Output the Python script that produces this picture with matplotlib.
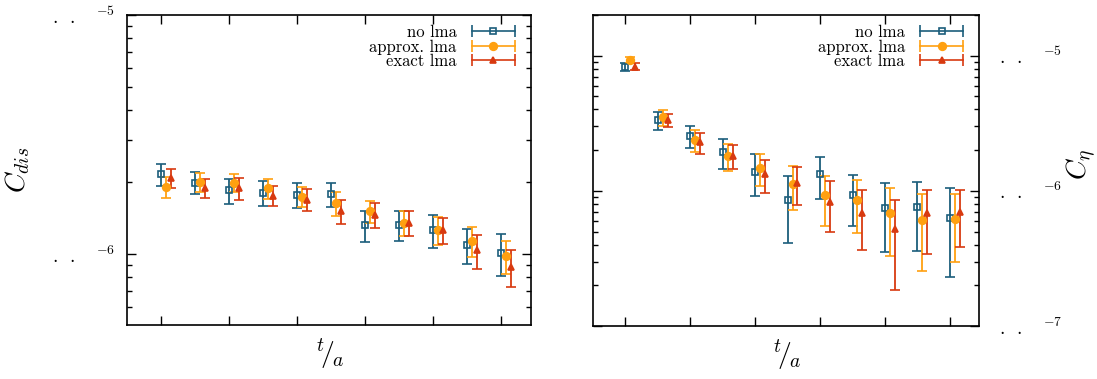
import numpy as np
import matplotlib
matplotlib.use("Agg")
import matplotlib.pyplot as plt
from matplotlib.lines import Line2D
from matplotlib.legend_handler import HandlerBase
from matplotlib.ticker import FixedLocator, LogLocator, NullFormatter

plt.rcParams["font.family"] = "serif"
plt.rcParams["font.serif"] = ["cmr10", "DejaVu Serif"]
plt.rcParams["mathtext.fontset"] = "cm"
plt.rcParams["axes.unicode_minus"] = False

# time slices (index) and values in units of 1e-6
t = np.arange(11)

dis_no = [2.155, 1.99, 1.845, 1.805, 1.766, 1.775, 1.32, 1.322, 1.26, 1.096, 1.012]
dis_no_err = [0.225, 0.21, 0.224, 0.222, 0.21, 0.20, 0.198, 0.187, 0.199, 0.183, 0.204]
dis_approx = [1.915, 1.995, 1.99, 1.883, 1.735, 1.63, 1.509, 1.355, 1.255, 1.133, 0.981]
dis_approx_err = [0.195, 0.185, 0.178, 0.179, 0.166, 0.185, 0.164, 0.166, 0.168, 0.164, 0.155]
dis_exact = [2.075, 1.885, 1.89, 1.75, 1.69, 1.512, 1.46, 1.35, 1.26, 1.035, 0.886]
dis_exact_err = [0.192, 0.176, 0.199, 0.168, 0.178, 0.171, 0.172, 0.161, 0.16, 0.166, 0.155]

eta_no = [8.3, 3.33, 2.55, 1.935, 1.39, 0.85, 1.33, 0.933, 0.752, 0.756, 0.635]
eta_no_err = [0.57, 0.52, 0.49, 0.484, 0.48, 0.442, 0.46, 0.387, 0.40, 0.397, 0.406]
eta_approx = [9.3, 3.51, 2.395, 1.815, 1.485, 1.128, 0.925, 0.85, 0.686, 0.604, 0.623]
eta_approx_err = [0.52, 0.466, 0.444, 0.424, 0.394, 0.409, 0.372, 0.36, 0.357, 0.35, 0.327]
eta_exact = [8.3, 3.33, 2.28, 1.825, 1.337, 1.148, 0.833, 0.687, 0.521, 0.682, 0.702]
eta_exact_err = [0.46, 0.346, 0.408, 0.363, 0.369, 0.358, 0.34, 0.32, 0.335, 0.339, 0.316]

labels = ["no lma", "approx. lma", "exact lma"]
colors = ["#1b5e7b", "#ffa010", "#d83a10"]
markers = ["s", "o", "^"]
offsets = [0.0, 0.15, 0.30]
msizes = [4.5, 5.5, 4.8]


class HErrHandler(HandlerBase):
    # horizontal errorbar sample like gnuplot keys
    def create_artists(self, legend, orig, xdescent, ydescent, width, height, fontsize, trans):
        c = orig.get_color()
        y = height / 2 - ydescent
        x0, x1 = -xdescent, width - xdescent
        bar = Line2D([x0, x1], [y, y], color=c, lw=1.2, marker="|", ms=8, mew=1.2)
        mk = Line2D([(x0 + x1) / 2], [y], ls="", marker=orig.get_marker(),
                    ms=orig.get_markersize(), mfc=orig.get_markerfacecolor(),
                    mec=c, mew=1.2)
        bar.set_transform(trans)
        mk.set_transform(trans)
        return [bar, mk]


def draw(ax, series, ylim, yticks, ticklabels, right):
    handles = []
    for (vals, errs), lab, c, m, off, ms in zip(series, labels, colors, markers, offsets, msizes):
        v = np.array(vals) * 1e-6
        e = np.array(errs) * 1e-6
        mfc = "none" if m == "s" else c
        ax.errorbar(t + off, v, yerr=e, fmt=m, color=c, mfc=mfc, mec=c, ms=ms,
                    mew=1.2, elinewidth=1.3, capsize=3.3, capthick=1.3)
        handles.append(Line2D([], [], color=c, marker=m, mfc=mfc, ms=ms))
    ax.set_yscale("log")
    ax.set_ylim(*ylim)
    ax.set_xlim(-1.0, 10.9)
    ax.xaxis.set_major_locator(FixedLocator([0, 2, 4, 6, 8, 10]))
    ax.set_xticklabels([])
    ax.yaxis.set_major_locator(FixedLocator(yticks))
    ax.yaxis.set_minor_locator(LogLocator(base=10, subs=np.arange(2, 10)))
    ax.yaxis.set_minor_formatter(NullFormatter())
    ax.set_yticklabels(ticklabels, fontsize=14)
    ax.tick_params(which="major", direction="in", length=6.5, width=1.0,
                   top=True, right=True)
    ax.tick_params(which="minor", direction="in", length=3.5, width=1.0,
                   top=True, right=True)
    ax.tick_params(axis="y", which="major", pad=8.7)
    if right:
        ax.tick_params(axis="y", labelleft=False, labelright=True, pad=14)
    for s in ax.spines.values():
        s.set_linewidth(1.2)
    ax.set_xlabel(r"${}^{t}\!/\!{}_{a}$", fontsize=20)
    ax.xaxis.set_label_coords(0.5, -0.04)
    ax.legend(handles, labels, handler_map={Line2D: HErrHandler()},
              loc="upper right", frameon=False, markerfirst=False,
              fontsize=12, handlelength=2.6, handletextpad=0.9,
              labelspacing=-0.05, borderaxespad=0.2,
              bbox_to_anchor=(0.985, 1.0))


fig = plt.figure(figsize=(10.97, 3.79), dpi=100)
ax1 = fig.add_axes([0.1158, 0.1425, 0.3683, 0.818])
ax2 = fig.add_axes([0.5406, 0.1398, 0.3519, 0.8206])

tl = lambda n: r"$.\enspace.\quad^{%d}$" % n

draw(ax1, [(dis_no, dis_no_err), (dis_approx, dis_approx_err), (dis_exact, dis_exact_err)],
     (5.05e-7, 1e-5), [1e-6, 1e-5], [tl(-6), tl(-5)], False)
draw(ax2, [(eta_no, eta_no_err), (eta_approx, eta_approx_err), (eta_exact, eta_exact_err)],
     (1e-7, 2e-5), [1e-7, 1e-6, 1e-5], [tl(-7), tl(-6), tl(-5)], True)

ax1.set_ylabel(r"$C_{dis}$", fontsize=20)
ax1.yaxis.set_label_coords(-0.235, 0.5)
ax2.set_ylabel(r"$C_{\eta}$", fontsize=20)
ax2.yaxis.set_label_position("right")
ax2.yaxis.set_label_coords(1.222, 0.52)

fig.savefig("out.png", dpi=100)
